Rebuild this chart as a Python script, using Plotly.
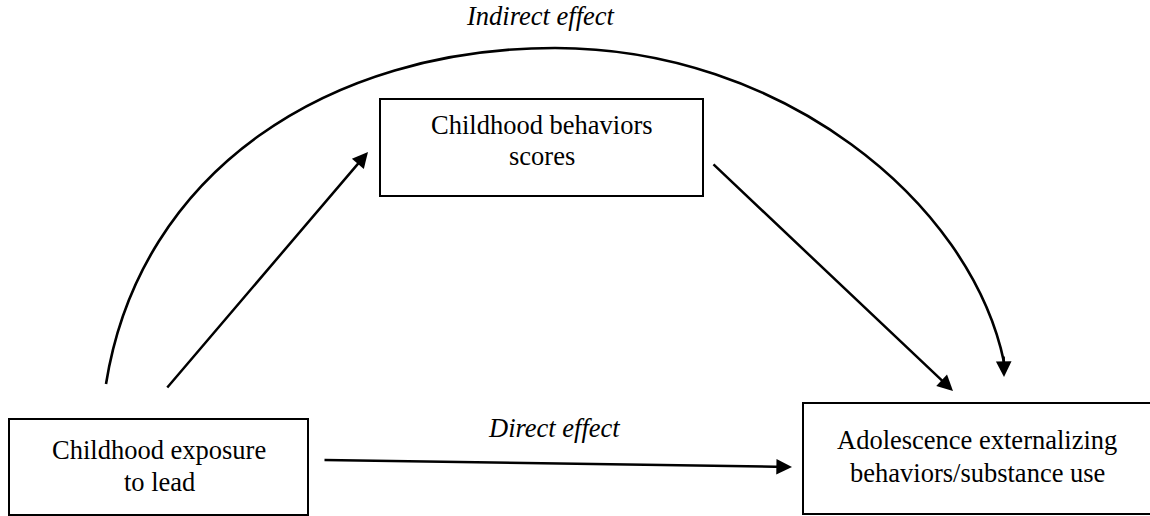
import plotly.graph_objects as go

# ---- diagram content ----
node_names = ["exposure", "behaviors", "outcome"]
node_lines = [
    ["Childhood exposure", "to lead"],
    ["Childhood behaviors", "scores"],
    ["Adolescence externalizing", "behaviors/substance use"],
]
edge_labels = ["Indirect effect", "Direct effect"]

# ---- layout geometry (pixel space, y downwards) ----
W, H = 1150, 516
FONT = "Liberation Serif"
FS = 26.5
boxes = {  # x0, y0, x1, y1
    "exposure": (9, 419, 308, 515),
    "behaviors": (380, 99, 703, 196),
    "outcome": (803, 403, 1151, 514),
}
text_pos = {  # centre x, baselines
    "exposure": (159, [459, 491]),
    "behaviors": (542, [134, 165]),
    "outcome": (977, [449, 482]),
}
label_pos = [(540, 25), (554, 437)]
arrows = [  # tail -> head
    ((166, 389), (368, 152)),
    ((712, 163), (953, 391)),
    ((323, 460), (792, 467)),
]
arc_path = ("M 106,384 C 140,170 330,48 555,48 "
            "C 780,48 970,200 1004,362")
arc_head = ((1003.6, 355), (1004, 377))

fig = go.Figure()
fig.add_trace(go.Scatter(x=[0, W], y=[0, H], mode="markers",
                         marker=dict(opacity=0), hoverinfo="skip",
                         showlegend=False))

for name in node_names:
    x0, y0, x1, y1 = boxes[name]
    fig.add_shape(type="rect", xref="x", yref="y", x0=x0, y0=y0, x1=x1, y1=y1,
                  line=dict(color="black", width=2), fillcolor="white", layer="below")

for name, lines in zip(node_names, node_lines):
    cx, bases = text_pos[name]
    for line, b in zip(lines, bases):
        fig.add_annotation(x=cx, y=b - 0.35 * FS, text=line, showarrow=False,
                           xref="x", yref="y", xanchor="center", yanchor="middle",
                           font=dict(family=FONT, size=FS, color="black"))

for lab, (cx, b) in zip(edge_labels, label_pos):
    fig.add_annotation(x=cx, y=b - 0.35 * FS, text=f"<i>{lab}</i>", showarrow=False,
                       xref="x", yref="y", xanchor="center", yanchor="middle",
                       font=dict(family=FONT, size=FS, color="black"))

fig.add_shape(type="path", path=arc_path, xref="x", yref="y",
              line=dict(color="black", width=2.6))

for (tx, ty), (hx, hy) in arrows + [arc_head]:
    fig.add_annotation(x=hx, y=hy, ax=tx, ay=ty, xref="x", yref="y",
                       axref="x", ayref="y", text="", showarrow=True,
                       arrowhead=2, arrowsize=1.25, arrowwidth=2.5,
                       arrowcolor="black", standoff=0, startstandoff=0)

fig.update_xaxes(range=[0, W], visible=False, fixedrange=True)
fig.update_yaxes(range=[H, 0], visible=False, fixedrange=True)
fig.update_layout(width=W, height=H, margin=dict(l=0, r=0, t=0, b=0),
                  plot_bgcolor="white", paper_bgcolor="white", showlegend=False)

fig.write_html("out.html", config={"displayModeBar": False},
               post_script="document.body.style.margin='0';document.body.style.overflow='hidden';")
